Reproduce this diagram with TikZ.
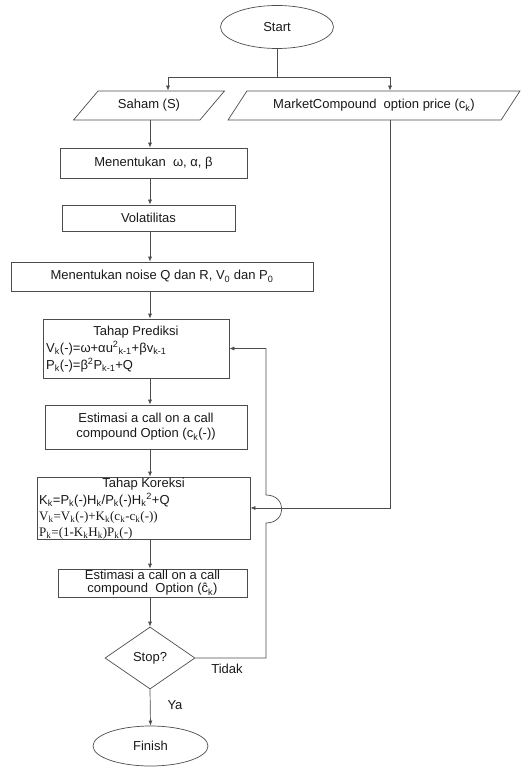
\documentclass[tikz,border=0pt]{standalone}
\usepackage{fontspec}
\setmainfont{Liberation Sans}
\newfontfamily\serifrm{Liberation Serif}
\usetikzlibrary{shapes.geometric,arrows.meta}
\begin{document}
\begin{tikzpicture}[x=1pt,y=-1pt,
  every node/.style={font=\fontsize{13pt}{15pt}\selectfont, text=black!90},
  ln/.style={draw=black!70, line width=0.7pt},
  arr/.style={ln, -{Latex[length=5pt,width=4pt]}},
  boxn/.style={ln, rectangle, inner sep=0pt, align=center},
  term/.style={ln, ellipse, inner sep=0pt},
  iodata/.style={ln, trapezium, trapezium left angle=39, trapezium right angle=141,
     trapezium stretches=true, inner sep=0pt, minimum height=29pt},
  dec/.style={ln, diamond, inner sep=0pt, minimum width=90pt, minimum height=62pt},
  lbl/.style={inner sep=0pt}
]
\useasboundingbox (0,0) rectangle (526,767);

% helper coordinates
\coordinate (mx) at (150,0);
\coordinate (sx) at (168,0);
\coordinate (rx) at (390,0);
\coordinate (fb) at (266,0);
\coordinate (split) at (277,77);
\coordinate (jb) at (266,523);
\coordinate (jt) at (266,495);

% nodes
\node[term, minimum width=113pt, minimum height=43pt] (start) at (277,27) {Start};
\node[iodata, minimum width=152pt] (saham) at (149,105.5) {Saham (S)};
\node[iodata, minimum width=292pt] (market) at (374,105.5) {MarketCompound~ option price (c\textsubscript{k})};
\node[boxn, minimum width=187pt, minimum height=30pt] (men) at (153.5,163) {Menentukan~ ω, α, β};
\node[boxn, minimum width=173pt, minimum height=26pt] (vol) at (148.5,218) {Volatilitas};
\node[boxn, minimum width=302pt, minimum height=29pt] (noise) at (162,276.5) {Menentukan noise Q dan R, V\textsubscript{0} dan P\textsubscript{0}};

\node[boxn, minimum width=186pt, minimum height=59pt] (pred) at (136,348.5) {};
\node[lbl] (predT) at (136,332) {Tahap Prediksi};
\node[lbl, anchor=west] (pred1) at (46,348) {V\textsubscript{k}(-)=ω+αu\textsuperscript{2}\textsubscript{k-1}+βv\textsubscript{k-1}};
\node[lbl, anchor=west] (pred2) at (46,365) {P\textsubscript{k}(-)=β\textsuperscript{2}P\textsubscript{k-1}+Q};

\node[boxn, minimum width=202pt, minimum height=44pt] (est1) at (146,427) {Estimasi a call on a call\\compound Option (c\textsubscript{k}(-))};

\node[boxn, minimum width=213pt, minimum height=62pt] (kor) at (143.5,508) {};
\node[lbl] (korT) at (143.5,484) {Tahap Koreksi};
\node[lbl, anchor=west] (kor1) at (39,500) {K\textsubscript{k}=P\textsubscript{k}(-)H\textsubscript{k}/P\textsubscript{k}(-)H\textsubscript{k}\textsuperscript{2}+Q};
\node[lbl, anchor=west, font=\fontsize{13pt}{15pt}\serifrm] (kor2) at (39,517) {V\textsubscript{k}=V\textsubscript{k}(-)+K\textsubscript{k}(c\textsubscript{k}-c\textsubscript{k}(-))};
\node[lbl, anchor=west, font=\fontsize{13pt}{15pt}\serifrm] (kor3) at (39,533) {P\textsubscript{k}=(1-K\textsubscript{k}H\textsubscript{k})P\textsubscript{k}(-)};

\node[boxn, minimum width=189pt, minimum height=28pt] (est2) at (152.5,583) {Estimasi a call on a call\\[-2pt]compound~ Option (ĉ\textsubscript{k})};

\node[dec] (stop) at (150,658) {Stop?};
\node[term, minimum width=115pt, minimum height=40pt] (finish) at (150.5,746) {Finish};

\node[lbl] (tidak) at (227,669) {Tidak};
\node[lbl] (ya) at (175,705) {Ya};

% connectors
\draw[ln] (start.south) -- (split);
\draw[ln] (sx |- split) -- (rx |- split);
\draw[arr] (sx |- split) -- (sx |- saham.north);
\draw[arr] (rx |- split) -- (rx |- market.north);

\draw[arr] (mx |- saham.south) -- (mx |- men.north);
\draw[arr] (mx |- men.south) -- (mx |- vol.north);
\draw[arr] (mx |- vol.south) -- (mx |- noise.north);
\draw[arr] (mx |- noise.south) -- (mx |- pred.north);
\draw[arr] (mx |- pred.south) -- (mx |- est1.north);
\draw[arr] (mx |- est1.south) -- (mx |- kor.north);
\draw[arr] (mx |- kor.south) -- (mx |- est2.north);
\draw[arr] (mx |- est2.south) -- (stop.north);
\draw[arr] (stop.south) -- (finish.north);

\draw[arr] (rx |- market.south) -- (rx |- kor.east) -- (kor.east);
\draw[arr] (stop.east) -- (fb |- stop.east) -- (jb)
   .. controls ([xshift=21pt]jb) and ([xshift=21pt]jt) .. (jt)
   -- (fb |- pred.east) -- (pred.east);
\end{tikzpicture}
\end{document}
